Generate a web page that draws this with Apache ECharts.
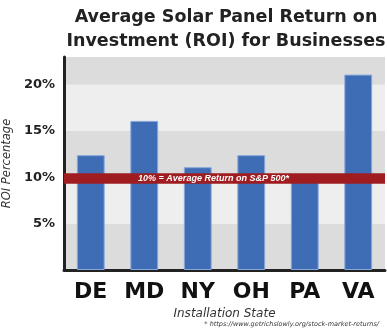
<!DOCTYPE html>
<html><head><meta charset="utf-8">
<script src="https://cdn.jsdelivr.net/npm/echarts@6/dist/echarts.min.js"></script>
<style>html,body{margin:0;padding:0;background:#fff}#c{width:387px;height:330px}</style>
</head><body><div id="c"></div>
<script>
const categories = ['DE','MD','NY','OH','PA','VA'];
const roiValues = [12.4, 16.1, 11.1, 12.4, 10.0, 21.1];
const benchmarkBand = [9.3, 10.45];
const benchmarkLabel = '10% = Average Return on S&P 500*';
const yTicks = [0, 5, 10, 15, 20];

const chart = echarts.init(document.getElementById('c'));
chart.setOption({
  animation: false,
  title: [{
    text: 'Average Solar Panel Return on\nInvestment (ROI) for Businesses',
    left: 221, top: 0, textAlign: 'center',
    textStyle: {fontFamily: 'DejaVu Sans', fontWeight: 'bold', fontSize: 17.5, lineHeight: 24, color: '#222'}
  }, {
    text: '* https://www.getrichslowly.org/stock-market-returns/',
    right: 3, bottom: -3,
    textStyle: {fontFamily: 'DejaVu Sans', fontStyle: 'italic', fontWeight: 'normal', fontSize: 6.5, color: '#333'}
  }],
  grid: {left: 64, right: 2, top: 57, bottom: 60, containLabel: false, outerBoundsMode: 'none'},
  xAxis: {
    type: 'category', data: categories,
    name: 'Installation State', nameLocation: 'middle', nameGap: 37,
    nameTextStyle: {fontFamily: 'DejaVu Sans', fontStyle: 'italic', fontSize: 12, color: '#333'},
    axisLine: {lineStyle: {color: '#222', width: 3}},
    axisTick: {show: false},
    axisLabel: {fontFamily: 'DejaVu Sans', fontWeight: 'bold', fontSize: 22, color: '#111', margin: 11}
  },
  yAxis: {
    type: 'value', min: 0, max: 23, interval: 5,
    name: 'ROI Percentage', nameLocation: 'middle', nameGap: 46,
    nameTextStyle: {fontFamily: 'DejaVu Sans', fontStyle: 'italic', fontSize: 11.5, color: '#333'},
    axisLine: {show: true, lineStyle: {color: '#222', width: 3}},
    axisTick: {show: false},
    splitLine: {show: false},
    splitArea: {show: true, areaStyle: {color: ['#dcdcdc', '#efeeef']}},
    axisLabel: {
      showMaxLabel: false, margin: 9,
      fontFamily: 'DejaVu Sans', fontWeight: 'bold', fontSize: 13, color: '#222',
      formatter: v => (v === 0 || yTicks.indexOf(v) < 0) ? '' : v + '%'
    }
  },
  series: [{
    type: 'bar', data: roiValues, barWidth: '52%',
    itemStyle: {color: '#3f6db5', borderColor: '#86a8db', borderWidth: 1},
    z: 2
  }, {
    type: 'line', data: [], z: 10, zlevel: 1, silent: true,
    markArea: {
      silent: true, z: 10, zlevel: 1,
      itemStyle: {color: '#9f1c21', opacity: 1},
      label: {
        show: true, position: 'inside', offset: [-11, 0],
        formatter: benchmarkLabel,
        fontFamily: 'Liberation Sans', fontStyle: 'italic', fontWeight: 'bold', fontSize: 9, color: '#fff'
      },
      data: [[{yAxis: benchmarkBand[0]}, {yAxis: benchmarkBand[1]}]]
    }
  }]
});
</script></body></html>
